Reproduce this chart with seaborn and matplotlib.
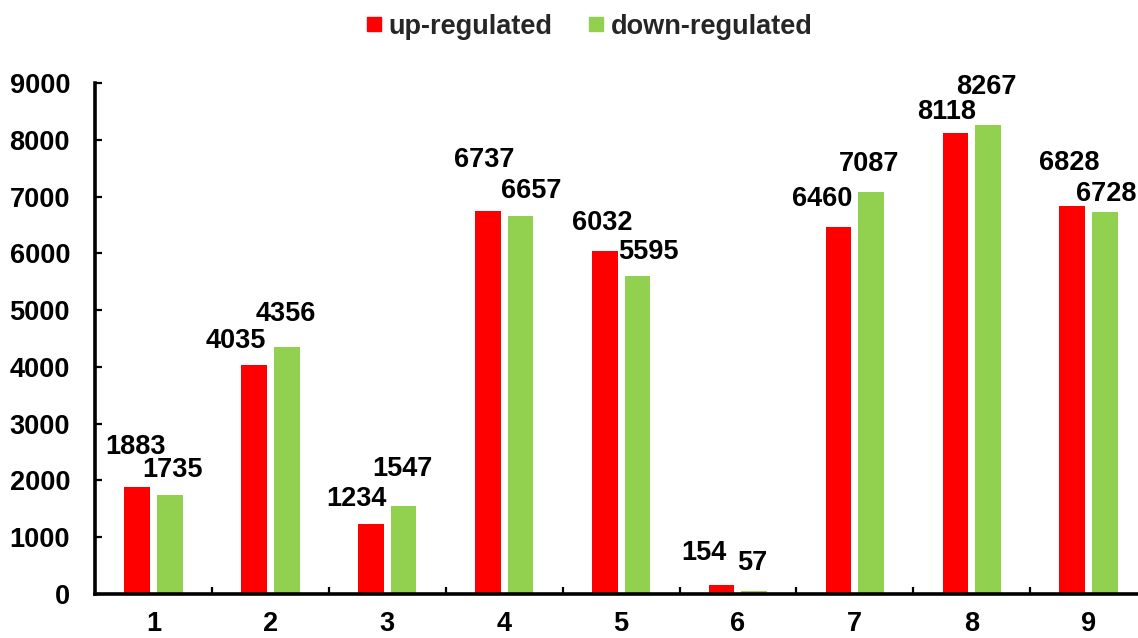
import numpy as np
import pandas as pd
import matplotlib
matplotlib.use("Agg")
import matplotlib.pyplot as plt
from matplotlib.lines import Line2D
from matplotlib.ticker import FixedLocator
import seaborn as sns

# Data
groups = ["1", "2", "3", "4", "5", "6", "7", "8", "9"]
up_regulated = [1883, 4035, 1234, 6737, 6032, 154, 6460, 8118, 6828]
down_regulated = [1735, 4356, 1547, 6657, 5595, 57, 7087, 8267, 6728]
series_names = ["up-regulated", "down-regulated"]
y_ticks = [0, 1000, 2000, 3000, 4000, 5000, 6000, 7000, 8000, 9000]

# Label placement (pixel offsets from the top centre of each bar)
up_label_offsets = [(-2, 40), (-18, 24), (-14, 25), (-4, 51), (-2, 28),
                    (-18, 32), (-16, 28), (-9, 21), (-3, 43)]
down_label_offsets = [(3, 25), (-1, 33), (-1, 37), (11, 25), (11, 24),
                      (-2, 28), (-2, 28), (-2, 38), (1, 18)]

colors = {"up-regulated": "#FF0000", "down-regulated": "#92D050"}
FS = 19.5

df = pd.DataFrame({
    "group": groups * 2,
    "count": up_regulated + down_regulated,
    "series": [series_names[0]] * len(groups) + [series_names[1]] * len(groups),
})

sns.set_theme(style="white")
plt.rcParams["font.family"] = ["Liberation Sans", "DejaVu Sans"]
plt.rcParams["font.weight"] = "bold"

fig = plt.figure(figsize=(11.38, 6.38), dpi=100)
ax = fig.add_axes([0.0835, 0.069, 0.9245, 0.801])

sns.barplot(data=df, x="group", y="count", hue="series", hue_order=series_names,
            palette=colors, width=0.56, gap=0.214, order=groups,
            legend=False, ax=ax, saturation=1, linewidth=0)

ax.set_xlim(-0.5, len(groups) - 0.5)
ax.set_ylim(0, 9000)
ax.set_yticks(y_ticks)
ax.set_yticklabels([str(t) for t in y_ticks])
ax.set_xlabel("")
ax.set_ylabel("")

# Axes styling
for side in ("top", "right"):
    ax.spines[side].set_visible(False)
for side in ("left", "bottom"):
    ax.spines[side].set_color("black")
    ax.spines[side].set_linewidth(2.6)

ax.tick_params(axis="y", direction="in", length=5, width=1.6, color="black",
               labelsize=FS, pad=18, left=True)
ax.tick_params(axis="x", which="major", length=0, labelsize=FS, pad=12)
ax.xaxis.set_minor_locator(FixedLocator(np.arange(0.5, len(groups) - 0.5, 1)))
ax.tick_params(axis="x", which="minor", direction="in", length=5, width=1.6,
               color="black", bottom=True)
for lbl in ax.get_xticklabels() + ax.get_yticklabels():
    lbl.set_fontweight("bold")
    lbl.set_color("black")

# Value labels above bars
for container, values, offsets in zip(ax.containers,
                                      [up_regulated, down_regulated],
                                      [up_label_offsets, down_label_offsets]):
    for bar, val, (dx, dy) in zip(container.patches, values, offsets):
        cx = bar.get_x() + bar.get_width() / 2
        ax.annotate(str(val), xy=(cx, val), xytext=(dx, dy),
                    textcoords="offset pixels", ha="center", va="center",
                    fontsize=FS, fontweight="bold", color="black",
                    annotation_clip=False)

# Legend with square markers
handles = [Line2D([0], [0], marker="s", linestyle="none", markersize=10,
                  markerfacecolor=colors[n], markeredgecolor=colors[n])
           for n in series_names]
fig.legend(handles, series_names, loc="center", bbox_to_anchor=(0.5176, 0.958),
           ncol=2, frameon=False, handlelength=0.6,
           handletextpad=0.25, columnspacing=1.3,
           prop={"weight": "bold", "size": FS})

fig.savefig("out.png", dpi=100)
